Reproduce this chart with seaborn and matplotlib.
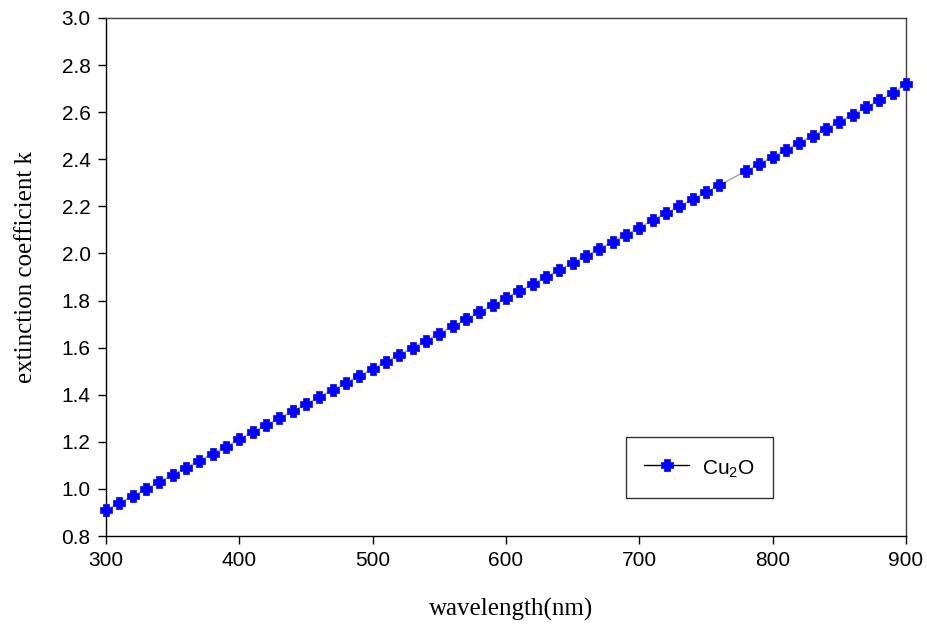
import numpy as np
import pandas as pd
import matplotlib
matplotlib.use("Agg")
import matplotlib.pyplot as plt
import seaborn as sns
from matplotlib.lines import Line2D
from matplotlib.path import Path

wavelength = [300, 310, 320, 330, 340, 350, 360, 370, 380, 390,
              400, 410, 420, 430, 440, 450, 460, 470, 480, 490,
              500, 510, 520, 530, 540, 550, 560, 570, 580, 590,
              600, 610, 620, 630, 640, 650, 660, 670, 680, 690,
              700, 710, 720, 730, 740, 750, 760, 780, 790,
              800, 810, 820, 830, 840, 850, 860, 870, 880, 890, 900]
k_values = [0.91, 0.94, 0.97, 1.00, 1.03, 1.06, 1.09, 1.12, 1.15, 1.18,
            1.21, 1.24, 1.27, 1.30, 1.33, 1.36, 1.39, 1.42, 1.45, 1.48,
            1.51, 1.54, 1.57, 1.60, 1.63, 1.66, 1.69, 1.72, 1.75, 1.78,
            1.81, 1.84, 1.87, 1.90, 1.93, 1.96, 1.99, 2.02, 2.05, 2.08,
            2.11, 2.14, 2.17, 2.20, 2.23, 2.26, 2.29, 2.35, 2.38,
            2.41, 2.44, 2.47, 2.50, 2.53, 2.56, 2.59, 2.62, 2.65, 2.68, 2.72]
series_label = r"Cu$_{\mathregular{2}}$O"
x_ticks = [300, 400, 500, 600, 700, 800, 900]
y_ticks = [0.8, 1.0, 1.2, 1.4, 1.6, 1.8, 2.0, 2.2, 2.4, 2.6, 2.8, 3.0]

df = pd.DataFrame({"wavelength": wavelength, "k": k_values})

# chunky cross marker (square with notched corners)
a = 0.5
verts = [(-a, 1), (a, 1), (a, a), (1, a), (1, -a), (a, -a), (a, -1),
         (-a, -1), (-a, -a), (-1, -a), (-1, a), (-a, a), (-a, 1)]
cross = Path(verts, closed=True)

sns.set_style("ticks")
plt.rcParams["font.family"] = ["Liberation Sans", "DejaVu Sans"]
plt.rcParams["text.color"] = "black"
plt.rcParams["axes.labelcolor"] = "black"

fig = plt.figure(figsize=(9.27, 6.27), dpi=100)
ax = fig.add_axes([0.1143, 0.1451, 0.863, 0.8262])

sns.lineplot(data=df, x="wavelength", y="k", ax=ax, color="#a0a0a0",
             linewidth=1.0, marker=cross, markersize=9,
             markerfacecolor="#0000ff", markeredgecolor="#0000ff",
             markeredgewidth=0.5, clip_on=False, zorder=3)

ax.set_xlim(300, 900)
ax.set_ylim(0.8, 3.0)
ax.set_xticks(x_ticks)
ax.set_yticks(y_ticks)
ax.set_yticklabels([f"{v:.1f}" for v in y_ticks])
ax.tick_params(axis="both", labelsize=15, direction="out", length=6,
               width=1, colors="black", pad=5)
ax.tick_params(top=False, right=False)
for s in ax.spines.values():
    s.set_visible(True)
    s.set_color("black")
    s.set_linewidth(1.0)
ax.spines["top"].set_color("#404040")
ax.spines["right"].set_color("#404040")

ax.set_xlabel("wavelength(nm)", fontsize=18, family="Liberation Serif",
              labelpad=20, color="black")
ax.set_ylabel("extinction coefficient k", fontsize=18,
              family="Liberation Serif", labelpad=18, color="black")
ax.xaxis.label.set_x(0.507)
ax.yaxis.label.set_y(0.519)

handle = Line2D([], [], color="black", linewidth=1.0, marker=cross,
                markersize=9, markerfacecolor="#0000ff",
                markeredgecolor="#0000ff", markeredgewidth=0.5)
leg = ax.legend([handle], [series_label], loc="lower left",
                bbox_to_anchor=(0.65, 0.073), borderaxespad=0,
                frameon=True, fancybox=False, fontsize=15, handlelength=2.2,
                handleheight=1.5, handletextpad=0.6, borderpad=0.85,
                edgecolor="black")
leg.get_frame().set_linewidth(1.0)

fig.savefig("out.png", dpi=100)
